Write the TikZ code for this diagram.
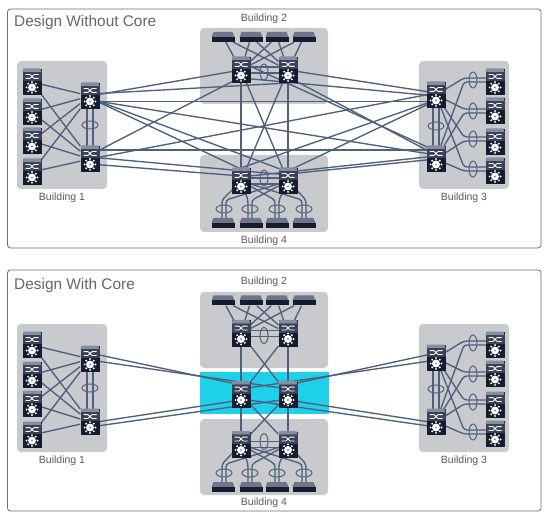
\documentclass[tikz,border=0pt]{standalone}
\usepackage{fontspec}
\setmainfont{Liberation Sans}
\usetikzlibrary{shapes.geometric}
\definecolor{linkc}{HTML}{4F5F7C}
\definecolor{bldgc}{HTML}{C9CACE}
\definecolor{corec}{HTML}{1FD0EA}
\definecolor{darkc}{HTML}{161B2E}
\definecolor{midc}{HTML}{3A4259}
\definecolor{lidc}{HTML}{858DA2}
\definecolor{acclid}{HTML}{6E7589}
\definecolor{frame}{HTML}{6E6E6E}
\pgfdeclarelayer{panel}
\pgfdeclarelayer{links}
\pgfsetlayers{panel,links,main}
\tikzset{
  link/.style={draw=linkc,line width=1.35pt},
  bundle/.style={ellipse,draw=linkc,line width=1pt,inner sep=0pt},
  hbundle/.style={bundle,minimum width=16pt,minimum height=8pt},
  vbundle/.style={bundle,minimum width=8pt,minimum height=16pt},
  mlsnode/.style={rectangle,fill=darkc,inner sep=0pt,minimum width=19pt,minimum height=26pt},
  accnode/.style={rectangle,inner sep=0pt,minimum width=23pt,minimum height=10pt},
  bldg/.style={fill=bldgc,rounded corners=4pt},
  outer/.style={draw=frame,line width=0.8pt,fill=white,rounded corners=3pt},
  bldglabel/.style={text=black!65,font=\fontsize{10.5}{12}\selectfont,inner sep=0pt},
  title/.style={text=black!60,font=\fontsize{15.4}{17}\selectfont,inner sep=0pt,anchor=west}
}
% link with vertical offsets (downwards, pt) at each end
\newcommand{\lk}[4]{\draw[link] ([shift={(0,#2)}]#1.center) -- ([shift={(0,#4)}]#3.center);}
% multilayer switch icon
\newcommand{\mls}[3]{%
  \node[mlsnode] (#1) at (#2,#3) {};
  \begin{scope}[shift={(#1.center)}]
    \fill[lidc] (-9.5,-10) -- (-8.5,-13.5) -- (8.5,-13.5) -- (9.5,-10) -- cycle;
    \fill[midc] (-9.5,-10) rectangle (9.5,-1);
    \draw[white,line width=0.8pt] (-6.5,-7.4) -- (-2,-7.4) -- (2,-3.6) -- (6.5,-3.6);
    \draw[white,line width=0.8pt] (-6.5,-3.6) -- (-2,-3.6) -- (2,-7.4) -- (6.5,-7.4);
    \fill[white] (0,5.5) circle (4pt);
    \foreach \ang in {0,45,...,315}{\fill[white] (0,5.5) ++(\ang:5.4) circle (1.1pt);}
    \fill[lidc] (0,5.5) circle (1.2pt);
  \end{scope}}
% access switch icon
\newcommand{\acc}[3]{%
  \node[accnode] (#1) at (#2,#3) {};
  \begin{scope}[shift={(#1.center)}]
    \fill[acclid] (-11.5,0) -- (-9.5,-5) -- (9.5,-5) -- (11.5,0) -- cycle;
    \fill[darkc] (-11.5,0) rectangle (11.5,5);
  \end{scope}}
% twin links through a bundle ellipse: right-hand access switch
\newcommand{\dualright}[4]{%
  \begin{pgfonlayer}{links}
    \draw[link,rounded corners=3pt] (#1.center) -- ([xshift=-9pt,yshift=2pt]#3.center) -- ([xshift=22pt,yshift=2pt]#3.center);
    \draw[link,rounded corners=3pt] (#2.center) -- ([xshift=-9pt,yshift=-2pt]#3.center) -- ([xshift=22pt,yshift=-2pt]#3.center);
  \end{pgfonlayer}}
% twin links through a bundle ellipse: bottom access switch
\newcommand{\dualbottom}[4]{%
  \begin{pgfonlayer}{links}
    \draw[link,rounded corners=3pt] (#1.center) -- ([xshift=-2pt,yshift=9pt]#3.center) -- ([xshift=-2pt,yshift=-14pt]#3.center);
    \draw[link,rounded corners=3pt] (#2.center) -- ([xshift=2pt,yshift=9pt]#3.center) -- ([xshift=2pt,yshift=-14pt]#3.center);
  \end{pgfonlayer}}
% parallel pair between distribution switches
\newcommand{\pairv}[2]{%
  \begin{pgfonlayer}{links}
    \draw[link] ([xshift=-3pt]#1.center) -- ([xshift=-3pt]#2.center);
    \draw[link] ([xshift=3pt]#1.center) -- ([xshift=3pt]#2.center);
  \end{pgfonlayer}}
\newcommand{\pairh}[2]{%
  \begin{pgfonlayer}{links}
    \draw[link] ([yshift=-3pt]#1.center) -- ([yshift=-3pt]#2.center);
    \draw[link] ([yshift=3pt]#1.center) -- ([yshift=3pt]#2.center);
  \end{pgfonlayer}}
% Buildings 1 and 3 are the same in both designs
\newcommand{\sides}[2]{%
  \begin{pgfonlayer}{panel}
    \fill[bldg] (17,61+#2) rectangle (107,189+#2);
    \fill[bldg] (419,61+#2) rectangle (509,189+#2);
  \end{pgfonlayer}
  \pgfmathsetmacro{\yo}{#2}
  \mls{#1Ad1}{90}{\yo+96}
  \mls{#1Ad2}{90}{\yo+159}
  \mls{#1Aa1}{32}{\yo+82}
  \mls{#1Aa2}{32}{\yo+112}
  \mls{#1Aa3}{32}{\yo+141}
  \mls{#1Aa4}{32}{\yo+172}
  \mls{#1Cd1}{436}{\yo+95}
  \mls{#1Cd2}{436}{\yo+159}
  \mls{#1Ca1}{495}{\yo+82}
  \mls{#1Ca2}{495}{\yo+111}
  \mls{#1Ca3}{495}{\yo+142}
  \mls{#1Ca4}{495}{\yo+171}
  \node[hbundle] (#1Ae) at (90,\yo+125) {};
  \node[hbundle] (#1Ce) at (436,\yo+126) {};
  \node[vbundle] (#1Ce1) at (473,\yo+80) {};
  \node[vbundle] (#1Ce2) at (473,\yo+111) {};
  \node[vbundle] (#1Ce3) at (473,\yo+139) {};
  \node[vbundle] (#1Ce4) at (473,\yo+169) {};
  \node[bldglabel] (#1Al) at (62,\yo+198) {Building 1};
  \node[bldglabel] (#1Cl) at (464,\yo+198) {Building 3};
  \begin{pgfonlayer}{links}
    \foreach \i in {1,2,3,4}{
      \draw[link] (#1Aa\i) -- (#1Ad1);
      \draw[link] (#1Aa\i) -- (#1Ad2);
    }
  \end{pgfonlayer}
  \pairv{#1Ad1}{#1Ad2}
  \pairv{#1Cd1}{#1Cd2}
  \foreach \i in {1,2,3,4}{\dualright{#1Cd1}{#1Cd2}{#1Ce\i}{#1Ca\i}}
}
% Building 2: access on top, distribution below
\newcommand{\bldgtwo}[6]{% prefix, top, bottom, access y, dist y, label y
  \begin{pgfonlayer}{panel}\fill[bldg] (200,#2) rectangle (328,#3);\end{pgfonlayer}
  \acc{#1Ba1}{223}{#4}\acc{#1Ba2}{251}{#4}\acc{#1Ba3}{277}{#4}\acc{#1Ba4}{304}{#4}
  \mls{#1Bd1}{241}{#5}\mls{#1Bd2}{288}{#5}
  \node[vbundle] (#1Be) at (264,#5+2) {};
  \node[bldglabel] (#1Bl) at (264,#6) {Building 2};
  \pairh{#1Bd1}{#1Bd2}
  \begin{pgfonlayer}{links}
    \foreach \i in {1,2,3,4}{
      \draw[link] (#1Ba\i) -- (#1Bd1);
      \draw[link] (#1Ba\i) -- (#1Bd2);
    }
  \end{pgfonlayer}}
% Building 4: distribution on top, access below
\newcommand{\bldgfour}[7]{% prefix, top, bottom, dist y, ellipse y, access y, label y
  \begin{pgfonlayer}{panel}\fill[bldg] (200,#2) rectangle (328,#3);\end{pgfonlayer}
  \mls{#1Dd1}{241}{#4}\mls{#1Dd2}{288}{#4}
  \acc{#1Da1}{223}{#6}\acc{#1Da2}{251}{#6}\acc{#1Da3}{277}{#6}\acc{#1Da4}{304}{#6}
  \node[vbundle] (#1De) at (264,#4-3) {};
  \node[hbundle] (#1De1) at (224,#5) {};
  \node[hbundle] (#1De2) at (250,#5) {};
  \node[hbundle] (#1De3) at (277,#5) {};
  \node[hbundle] (#1De4) at (304,#5) {};
  \node[bldglabel] (#1Dl) at (264,#7) {Building 4};
  \pairh{#1Dd1}{#1Dd2}
  \foreach \i in {1,2,3,4}{\dualbottom{#1Dd1}{#1Dd2}{#1De\i}{#1Da\i}}}
\begin{document}
\begin{tikzpicture}[x=1pt,y=-1pt]
\useasboundingbox (0,0) rectangle (551,518);
\begin{pgfonlayer}{panel}
  \fill[white] (0,0) rectangle (551,518);
  \path[outer] (7.5,9) rectangle (541,248);
  \path[outer] (7.5,270) rectangle (541,511);
  \fill[corec] (200,372) rectangle (329,414);
\end{pgfonlayer}
\node[title] (t1) at (14,23) {Design Without Core};
\node[title] (t2) at (14,286) {Design With Core};

% ---- design without core
\sides{t}{0}
\bldgtwo{t}{28}{104}{37}{70}{19}
\bldgfour{t}{155}{232}{181}{209}{223}{241}
\begin{pgfonlayer}{links}
  \lk{tAd1}{0}{tBd1}{0}
  \lk{tAd1}{-2}{tBd2}{13}
  \lk{tAd1}{5.5}{tCd1}{6.5}
  \lk{tAd1}{4}{tCd2}{-4}
  \lk{tAd1}{2}{tDd1}{-12}
  \lk{tAd1}{2}{tDd2}{-9}
  \lk{tAd2}{-4}{tBd1}{7}
  \lk{tAd2}{0}{tCd1}{-2}
  \lk{tAd2}{-9}{tCd2}{-9}
  \lk{tAd2}{5}{tDd1}{-5}
  \lk{tAd2}{-2}{tDd2}{-6}
  \lk{tCd1}{1}{tBd1}{8}
  \lk{tCd1}{-2}{tBd2}{0}
  \lk{tCd1}{5}{tDd1}{-13}
  \lk{tCd1}{5.5}{tDd2}{-10}
  \lk{tCd2}{-8}{tBd1}{-8}
  \lk{tCd2}{-4}{tBd2}{7}
  \lk{tCd2}{-3}{tDd1}{-4}
  \lk{tCd2}{0}{tDd2}{-7}
  \lk{tBd1}{0}{tDd1}{0}
  \lk{tBd1}{0}{tDd2}{0}
  \lk{tBd2}{0}{tDd1}{0}
  \lk{tBd2}{0}{tDd2}{0}
\end{pgfonlayer}

% ---- design with core
\sides{b}{263}
\bldgtwo{b}{292}{368}{300.5}{333.5}{282}
\bldgfour{b}{419}{495}{444.5}{473}{487}{503}
\mls{c1}{241}{394.5}
\mls{c2}{288}{394.5}
\begin{pgfonlayer}{links}
  \lk{bAd1}{-6}{c1}{-9.5}
  \lk{bAd1}{1}{c2}{-5.5}
  \lk{bAd2}{1}{c1}{5.5}
  \lk{bAd2}{5}{c2}{4.5}
  \lk{bCd1}{-5}{c2}{-9.5}
  \lk{bCd1}{2}{c1}{-5.5}
  \lk{bCd2}{1}{c2}{5.5}
  \lk{bCd2}{5}{c1}{4.5}
  \foreach \a in {bBd1,bBd2,bDd1,bDd2}{
    \foreach \b in {c1,c2}{\draw[link] (\a) -- (\b);}}
\end{pgfonlayer}
\end{tikzpicture}
\end{document}
